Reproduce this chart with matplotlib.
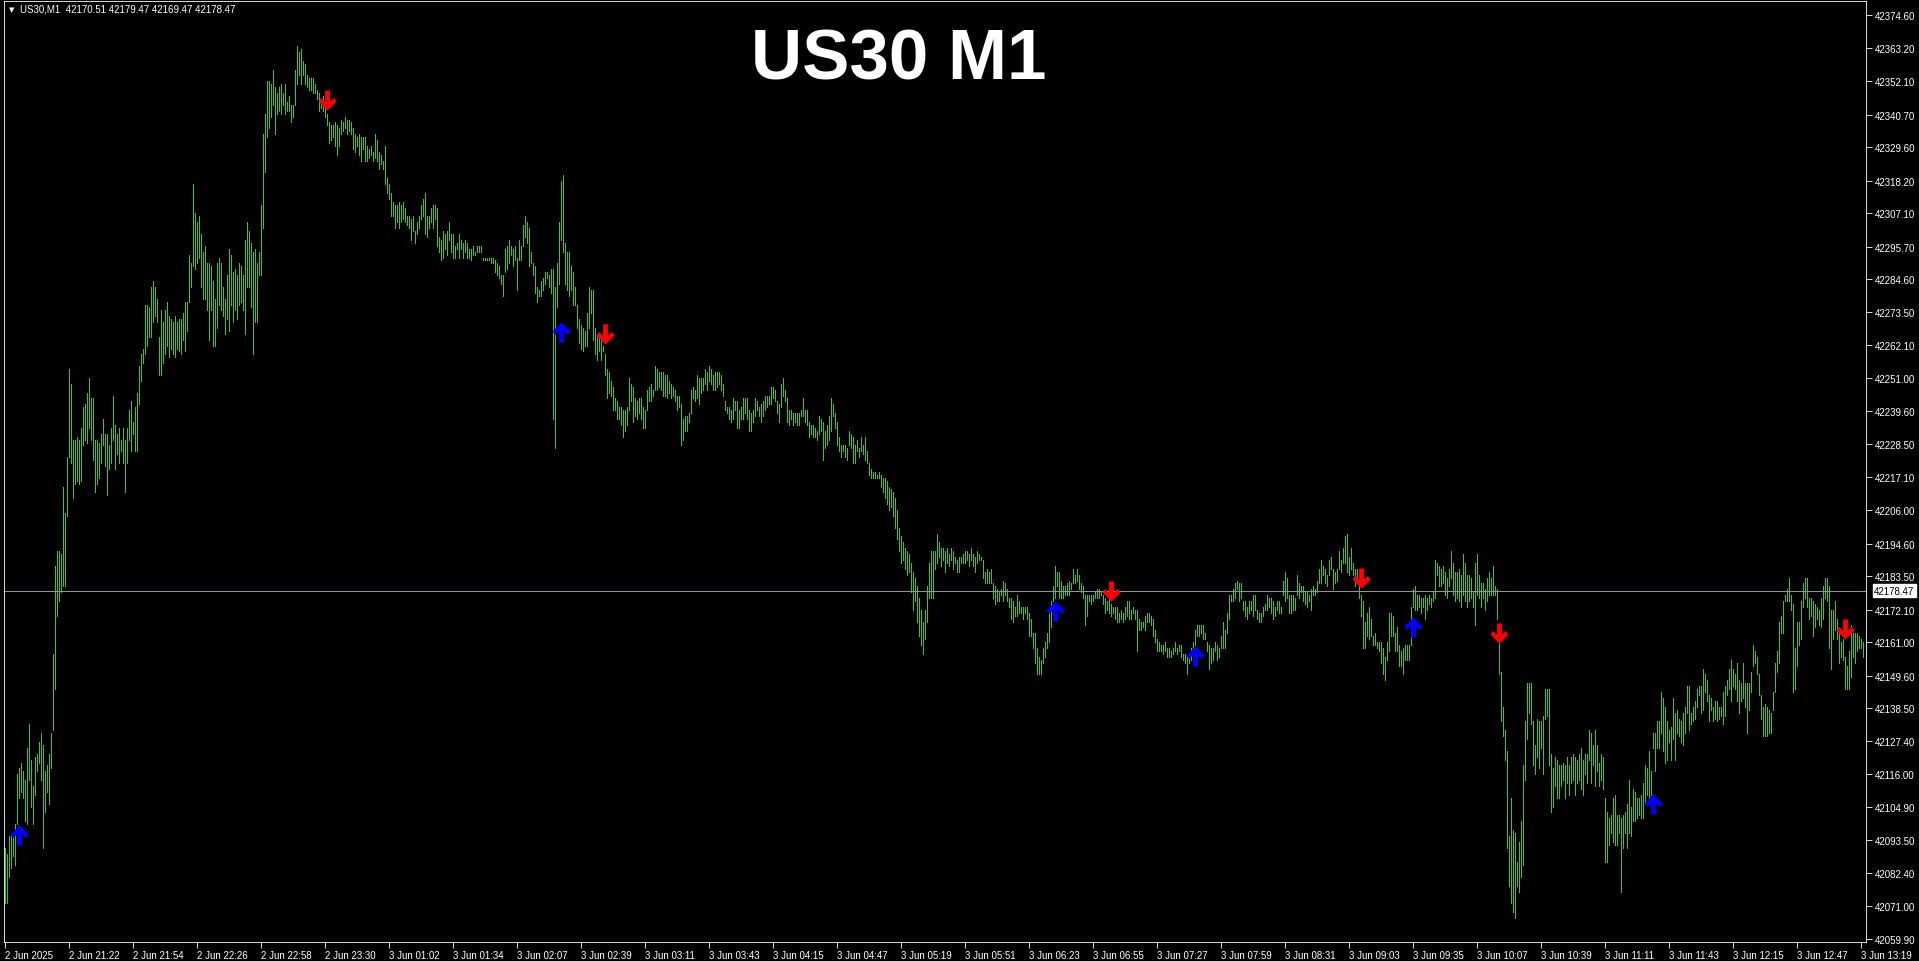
import matplotlib
matplotlib.use('Agg')
import matplotlib.pyplot as plt
from matplotlib.path import Path

# US30 M1 bars, prices stored as offset from base_price
base_price = 42000

bar_high = [
    91, 89, 95, 95, 95, 99, 116, 118, 120, 117, 114, 125, 133, 121, 112, 122, 123, 127, 130, 126,
    117, 119, 123, 130, 157, 187, 192, 192, 191, 214, 205, 224, 254, 249, 230, 230, 231, 230, 234, 241,
    242, 246, 251, 244, 244, 230, 230, 229, 232, 237, 232, 232, 228, 234, 245, 235, 232, 234, 230, 234,
    230, 234, 240, 243, 236, 241, 246, 255, 259, 261, 276, 276, 275, 282, 284, 282, 278, 265, 274, 270,
    274, 277, 272, 271, 270, 272, 270, 271, 271, 273, 277, 277, 293, 290, 317, 307, 304, 306, 300, 294,
    296, 290, 290, 289, 284, 278, 290, 292, 290, 282, 278, 286, 295, 293, 287, 288, 286, 290, 289, 286,
    298, 304, 301, 297, 294, 295, 290, 294, 310, 334, 341, 352, 352, 351, 356, 350, 348, 350, 351, 348,
    351, 345, 347, 344, 344, 356, 364, 362, 363, 359, 358, 354, 353, 353, 353, 351, 349, 348, 346, 347,
    344, 341, 338, 337, 337, 338, 337, 336, 339, 338, 340, 339, 339, 338, 336, 334, 333, 334, 333, 333,
    333, 330, 329, 330, 328, 334, 332, 328, 327, 325, 330, 319, 317, 314, 311, 310, 310, 311, 310, 311,
    309, 306, 306, 305, 306, 301, 304, 306, 310, 312, 314, 306, 306, 309, 310, 310, 309, 299, 298, 301,
    300, 301, 304, 300, 300, 296, 297, 300, 298, 297, 298, 297, 295, 295, 296, 294, 296, 296, 296, 292,
    292, 292, 292, 292, 292, 291, 290, 289, 286, 286, 295, 296, 298, 296, 295, 296, 292, 298, 296, 303,
    306, 304, 302, 294, 290, 289, 282, 281, 284, 285, 287, 287, 286, 288, 288, 282, 290, 304, 318, 320,
    297, 294, 294, 289, 287, 282, 276, 271, 269, 268, 267, 273, 282, 281, 281, 268, 266, 265, 264, 262,
    259, 254, 253, 250, 248, 244, 243, 241, 241, 240, 240, 241, 251, 249, 248, 244, 243, 244, 244, 241,
    240, 247, 248, 249, 247, 255, 254, 253, 253, 253, 252, 252, 250, 249, 248, 247, 245, 245, 242, 237,
    238, 238, 239, 247, 248, 247, 252, 251, 251, 251, 254, 253, 255, 254, 252, 253, 253, 253, 252, 249,
    243, 241, 241, 240, 244, 243, 243, 240, 241, 244, 244, 244, 240, 239, 240, 244, 243, 241, 242, 243,
    245, 245, 245, 248, 248, 247, 243, 242, 249, 251, 247, 244, 240, 240, 239, 239, 239, 239, 240, 244,
    240, 240, 236, 235, 235, 234, 233, 238, 237, 236, 233, 235, 238, 244, 242, 239, 236, 231, 228, 228,
    228, 227, 233, 232, 231, 228, 230, 227, 231, 228, 231, 226, 222, 220, 219, 219, 218, 219, 218, 217,
    217, 216, 214, 213, 212, 210, 206, 200, 197, 195, 193, 192, 191, 188, 185, 183, 180, 176, 172, 168,
    172, 180, 188, 192, 192, 192, 198, 195, 193, 193, 192, 193, 191, 193, 192, 190, 189, 190, 190, 191,
    192, 192, 191, 193, 191, 190, 192, 191, 190, 189, 185, 186, 185, 186, 181, 180, 179, 178, 179, 182,
    181, 179, 176, 176, 175, 173, 177, 175, 173, 173, 173, 173, 171, 169, 164, 164, 159, 156, 155, 159,
    161, 164, 171, 175, 180, 187, 185, 185, 182, 180, 180, 181, 182, 181, 186, 184, 186, 184, 181, 180,
    177, 177, 177, 177, 177, 178, 179, 179, 178, 177, 176, 175, 176, 174, 173, 173, 173, 171, 172, 171,
    173, 175, 175, 172, 173, 172, 172, 169, 168, 168, 170, 171, 171, 170, 169, 165, 162, 161, 160, 160,
    161, 159, 159, 158, 159, 161, 159, 160, 160, 157, 157, 156, 157, 159, 161, 165, 167, 167, 167, 167,
    164, 161, 160, 159, 159, 161, 160, 159, 163, 168, 165, 171, 177, 177, 179, 181, 182, 181, 181, 175,
    175, 173, 175, 175, 177, 177, 172, 171, 171, 173, 174, 177, 176, 176, 175, 173, 175, 175, 173, 182,
    185, 183, 177, 177, 177, 176, 184, 181, 180, 180, 178, 178, 177, 179, 180, 179, 182, 186, 189, 187,
    186, 184, 189, 190, 186, 185, 186, 192, 189, 193, 197, 198, 190, 193, 188, 186, 186, 180, 177, 175,
    168, 171, 173, 169, 163, 164, 161, 161, 161, 159, 156, 161, 171, 171, 170, 164, 166, 160, 158, 159,
    160, 160, 160, 173, 179, 180, 177, 177, 176, 176, 177, 176, 177, 176, 178, 189, 188, 187, 186, 187,
    185, 183, 186, 192, 188, 185, 185, 186, 184, 191, 188, 184, 184, 183, 178, 188, 191, 184, 181, 181,
    179, 183, 185, 183, 187, 180, 179, 161, 151, 139, 131, 124, 95, 108, 97, 96, 86, 93, 100, 119,
    134, 147, 147, 147, 134, 126, 135, 134, 134, 136, 145, 145, 145, 123, 118, 122, 121, 119, 119, 120,
    119, 122, 119, 122, 123, 122, 121, 123, 125, 121, 123, 123, 131, 130, 126, 131, 126, 120, 123, 122,
    108, 103, 101, 102, 108, 109, 102, 102, 101, 102, 103, 106, 114, 105, 111, 110, 108, 108, 109, 113,
    119, 118, 124, 117, 130, 130, 134, 134, 144, 142, 139, 134, 131, 132, 142, 137, 138, 135, 134, 137,
    139, 146, 146, 137, 139, 141, 145, 146, 146, 152, 150, 148, 143, 142, 139, 141, 141, 139, 139, 144,
    146, 148, 152, 155, 152, 150, 154, 148, 147, 154, 147, 147, 147, 151, 160, 158, 156, 150, 143, 139,
    140, 139, 138, 137, 144, 154, 158, 168, 170, 175, 177, 179, 183, 177, 174, 159, 168, 168, 175, 181,
    183, 183, 176, 176, 175, 174, 173, 172, 176, 180, 183, 183, 180, 172, 172, 175, 169, 164, 161, 162,
    156, 153, 158, 167, 164, 164, 164, 163, 162, 161,
]

bar_low = [
    72, 72, 81, 84, 88, 85, 99, 108, 110, 108, 100, 99, 114, 105, 99, 109, 117, 120, 114, 91,
    103, 110, 106, 118, 131, 145, 170, 175, 178, 180, 180, 204, 224, 222, 210, 215, 216, 215, 216, 228,
    230, 229, 234, 230, 223, 212, 215, 217, 222, 228, 221, 211, 220, 222, 230, 220, 225, 222, 226, 222,
    212, 222, 230, 226, 232, 226, 226, 242, 250, 256, 259, 262, 265, 265, 270, 272, 270, 252, 252, 256,
    259, 262, 258, 261, 259, 258, 261, 260, 259, 264, 260, 267, 277, 282, 289, 288, 290, 292, 282, 278,
    278, 274, 264, 274, 262, 262, 268, 276, 274, 272, 266, 271, 267, 276, 270, 274, 271, 276, 277, 274,
    266, 282, 282, 275, 259, 270, 270, 286, 286, 302, 321, 333, 336, 340, 344, 334, 341, 342, 341, 344,
    341, 342, 342, 338, 340, 344, 351, 354, 351, 354, 351, 350, 349, 349, 348, 348, 346, 342, 343, 342,
    340, 337, 331, 332, 333, 330, 327, 330, 334, 335, 336, 334, 335, 334, 329, 328, 330, 327, 325, 329,
    325, 325, 326, 327, 325, 326, 325, 322, 324, 322, 317, 314, 312, 306, 306, 302, 304, 302, 304, 305,
    304, 303, 302, 298, 301, 297, 300, 302, 305, 306, 300, 299, 302, 304, 302, 305, 296, 294, 291, 292,
    295, 293, 298, 294, 292, 292, 295, 292, 295, 292, 294, 292, 292, 291, 293, 293, 294, 294, 294, 291,
    291, 291, 291, 290, 290, 287, 286, 285, 283, 279, 287, 288, 290, 293, 289, 291, 281, 291, 291, 296,
    299, 297, 289, 290, 286, 280, 277, 279, 279, 281, 283, 285, 282, 280, 237, 227, 275, 283, 298, 294,
    283, 281, 279, 281, 276, 276, 268, 263, 261, 260, 262, 262, 268, 273, 264, 259, 257, 260, 257, 260,
    252, 244, 246, 245, 240, 240, 237, 237, 235, 231, 233, 235, 240, 243, 236, 238, 237, 239, 237, 234,
    234, 240, 243, 243, 245, 247, 247, 248, 247, 245, 245, 244, 246, 244, 245, 243, 240, 241, 228, 230,
    233, 233, 236, 239, 244, 243, 244, 242, 246, 247, 249, 247, 250, 249, 247, 247, 248, 249, 247, 245,
    240, 239, 237, 236, 237, 240, 234, 234, 237, 237, 239, 237, 233, 233, 236, 238, 240, 238, 236, 238,
    240, 241, 242, 242, 244, 243, 239, 236, 241, 245, 243, 236, 235, 237, 235, 236, 235, 235, 238, 238,
    236, 235, 231, 232, 231, 231, 230, 232, 233, 223, 227, 228, 230, 233, 238, 234, 228, 226, 224, 226,
    224, 223, 228, 227, 222, 222, 226, 224, 226, 225, 223, 222, 218, 217, 217, 217, 217, 217, 214, 212,
    210, 208, 206, 207, 204, 200, 196, 192, 188, 189, 186, 184, 185, 178, 172, 175, 168, 163, 160, 157,
    162, 168, 176, 176, 176, 186, 188, 190, 187, 189, 185, 188, 187, 189, 186, 188, 185, 185, 188, 188,
    188, 189, 187, 189, 187, 185, 188, 189, 189, 183, 181, 181, 181, 181, 176, 174, 175, 175, 177, 175,
    177, 175, 173, 169, 168, 170, 170, 171, 171, 169, 171, 169, 163, 163, 159, 154, 150, 150, 150, 154,
    156, 159, 161, 166, 175, 176, 180, 176, 176, 176, 177, 177, 177, 179, 181, 181, 182, 179, 178, 176,
    167, 170, 175, 174, 175, 176, 176, 176, 177, 174, 171, 172, 171, 170, 171, 169, 168, 168, 169, 168,
    169, 170, 169, 169, 171, 169, 158, 165, 165, 166, 165, 168, 168, 167, 163, 161, 158, 158, 158, 157,
    158, 156, 156, 156, 157, 158, 157, 158, 156, 155, 154, 150, 154, 155, 158, 160, 163, 163, 164, 162,
    162, 158, 152, 154, 155, 158, 155, 156, 159, 159, 159, 164, 169, 175, 175, 176, 179, 175, 176, 172,
    170, 169, 171, 172, 170, 172, 169, 168, 168, 170, 172, 172, 173, 171, 169, 170, 172, 171, 171, 177,
    175, 176, 171, 171, 172, 172, 177, 176, 178, 175, 174, 173, 175, 172, 177, 177, 178, 181, 181, 184,
    181, 180, 184, 186, 179, 181, 182, 186, 185, 188, 188, 185, 184, 186, 184, 180, 182, 176, 170, 159,
    159, 163, 162, 163, 160, 160, 159, 158, 154, 150, 148, 155, 158, 163, 163, 158, 158, 153, 153, 150,
    155, 155, 155, 160, 173, 172, 172, 173, 171, 173, 169, 172, 174, 173, 175, 176, 184, 180, 180, 181,
    177, 176, 180, 183, 177, 175, 176, 175, 173, 177, 175, 173, 175, 176, 173, 167, 177, 176, 173, 176,
    172, 175, 177, 177, 177, 177, 169, 150, 134, 129, 121, 91, 78, 72, 69, 67, 78, 76, 81, 85,
    114, 128, 137, 133, 119, 116, 122, 118, 125, 116, 135, 136, 119, 103, 105, 112, 108, 108, 112, 114,
    108, 113, 109, 113, 114, 109, 113, 114, 111, 109, 116, 113, 121, 113, 119, 112, 117, 112, 114, 111,
    86, 86, 92, 96, 93, 92, 92, 96, 76, 91, 96, 91, 96, 95, 100, 100, 101, 102, 101, 101,
    106, 109, 106, 109, 125, 117, 125, 125, 130, 124, 120, 121, 127, 121, 128, 121, 130, 129, 127, 126,
    130, 137, 131, 133, 134, 135, 139, 143, 137, 138, 144, 141, 134, 138, 134, 135, 134, 135, 136, 133,
    136, 143, 145, 141, 146, 145, 141, 137, 141, 142, 139, 130, 138, 144, 153, 154, 150, 143, 135, 129,
    129, 129, 130, 130, 138, 144, 151, 154, 164, 164, 175, 175, 175, 172, 144, 145, 153, 160, 162, 173,
    176, 173, 169, 170, 163, 166, 169, 167, 166, 169, 176, 175, 159, 152, 162, 165, 162, 154, 156, 155,
    145, 145, 145, 149, 156, 154, 158, 159, 159, 156,
]

# signal arrows: bar index and price
up_bar = [7, 278, 525, 595, 704, 824]
up_price = [42095.3, 42266.6, 42171.5, 42156.2, 42166.1, 42106.0]
dn_bar = [161, 300, 553, 678, 747, 920]
dn_price = [42345.7, 42266.1, 42178.4, 42183.0, 42164.0, 42165.4]

price_labels = ['42374.60', '42363.20', '42352.10', '42340.70', '42329.60', '42318.20', '42307.10',
                '42295.70', '42284.60', '42273.50', '42262.10', '42251.00', '42239.60', '42228.50',
                '42217.10', '42206.00', '42194.60', '42183.50', '42172.10', '42161.00', '42149.60',
                '42138.50', '42127.40', '42116.00', '42104.90', '42093.50', '42082.40', '42071.00',
                '42059.90']
time_labels = ['2 Jun 2025', '2 Jun 21:22', '2 Jun 21:54', '2 Jun 22:26', '2 Jun 22:58', '2 Jun 23:30',
               '3 Jun 01:02', '3 Jun 01:34', '3 Jun 02:07', '3 Jun 02:39', '3 Jun 03:11', '3 Jun 03:43',
               '3 Jun 04:15', '3 Jun 04:47', '3 Jun 05:19', '3 Jun 05:51', '3 Jun 06:23', '3 Jun 06:55',
               '3 Jun 07:27', '3 Jun 07:59', '3 Jun 08:31', '3 Jun 09:03', '3 Jun 09:35', '3 Jun 10:07',
               '3 Jun 10:39', '3 Jun 11:11', '3 Jun 11:43', '3 Jun 12:15', '3 Jun 12:47', '3 Jun 13:19']
time_step = 32
bid_price = 42178.47
info_text = 'US30,M1  42170.51 42179.47 42169.47 42178.47'

W, H = 1919, 962
fig = plt.figure(figsize=(W / 100, H / 100), dpi=100, facecolor='black')
# plot frame in pixels: left 4, right 1866, top 2, bottom 943
ax = fig.add_axes([4 / W, (H - 943) / H, 1862 / W, 941 / H], facecolor='black')

highs = [base_price + v for v in bar_high]
lows = [base_price + v for v in bar_low]
idx = list(range(len(highs)))
ax.vlines(idx, lows, highs, colors='#2ecb2e', linewidth=0.5, antialiased=False)

ax.axhline(bid_price, color='#8c96a0', linewidth=0.5, antialiased=False)

up_arrow = Path([(0, 9.5), (8.5, 1.0), (6.0, -2.5), (2.3, 1.3), (2.3, -9.5), (-2.3, -9.5),
                 (-2.3, 1.3), (-6.0, -2.5), (-8.5, 1.0), (0, 9.5)], closed=True)
dn_arrow = Path([(x, -y) for x, y in up_arrow.vertices], closed=True)
ax.plot(up_bar, up_price, linestyle='none', marker=up_arrow, markersize=14.5,
        markerfacecolor='#0000ff', markeredgewidth=0)
ax.plot(dn_bar, dn_price, linestyle='none', marker=dn_arrow, markersize=14.5,
        markerfacecolor='#ff0000', markeredgewidth=0)

ax.set_xlim(-0.5, 930.5)
ax.set_ylim(42058.88, 42379.37)

for s in ax.spines.values():
    s.set_color('white')
    s.set_linewidth(0.6)

font = 'Liberation Sans'
ax.yaxis.tick_right()
ax.set_yticks([float(t) for t in price_labels], price_labels)
ax.set_xticks([time_step * k for k in range(len(time_labels))], time_labels)
ax.tick_params(axis='both', direction='out', length=4, width=0.6, colors='white',
               labelsize=7)
ax.tick_params(axis='y', pad=2)
ax.tick_params(axis='x', pad=2)
for lab in ax.get_xticklabels() + ax.get_yticklabels():
    lab.set_fontfamily(font)
for lab in ax.get_xticklabels():
    lab.set_horizontalalignment('left')

# current price box on the price scale
ax.text(1 + 8 / 1862, bid_price, f'{bid_price:.2f}', transform=ax.get_yaxis_transform(),
        ha='left', va='center', fontsize=7, family=font, color='black',
        bbox=dict(boxstyle='square,pad=0.15', facecolor='white', edgecolor='white'))

fig.text(9 / W, 1 - 10 / H, '\u25bc', fontsize=5, color='white', ha='left', va='center')
fig.text(20 / W, 1 - 9 / H, info_text, fontsize=7, family=font, color='white',
         ha='left', va='center')
fig.text(899 / W, 1 - 62 / H, 'US30 M1', fontsize=51, family=font, weight='bold',
         color='white', ha='center', va='center')

fig.savefig('out.png', dpi=100, facecolor='black')
